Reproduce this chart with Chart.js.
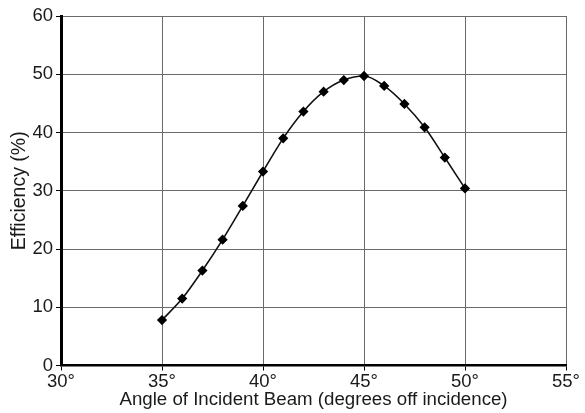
<!DOCTYPE html>
<html><head><meta charset="utf-8">
<script src="https://cdn.jsdelivr.net/npm/chart.js@4/dist/chart.umd.min.js"></script>
<style>html,body{margin:0;padding:0;background:#fff}#wrap{width:585px;height:413px}</style>
</head><body><div id="wrap"><canvas id="c" width="585" height="413"></canvas></div>
<script>
const angles = [35,36,37,38,39,40,41,42,43,44,45,46,47,48,49,50];
const efficiency = [7.8,11.5,16.3,21.6,27.4,33.3,39.0,43.6,47.0,49.0,49.7,48.0,44.9,40.9,35.7,30.4];
const xTicks = [30,35,40,45,50,55];
const yTicks = [0,10,20,30,40,50,60];
const xTitle = 'Angle of Incident Beam (degrees off incidence)';
const yTitle = 'Efficiency (%)';

const FONT = '"Liberation Sans", Arial, sans-serif';
new Chart(document.getElementById('c'), {
  type: 'line',
  data: {
    datasets: [{
      data: angles.map((a,i)=>({x:a,y:efficiency[i]})),
      borderColor: '#111', borderWidth: 1.6,
      pointStyle: 'rectRot', pointRadius: 4, pointBackgroundColor: '#000', pointBorderColor: '#000',
      cubicInterpolationMode: 'monotone', fill: false
    }]
  },
  options: {
    responsive: false, animation: false,
    layout: { padding: { left: 8, top: 16, right: 19, bottom: 2 } },
    plugins: { legend: { display: false }, tooltip: { enabled: false } },
    scales: {
      x: {
        type: 'linear', min: 30, max: 55,
        afterBuildTicks: s => { s.ticks = xTicks.map(v=>({value:v})); },
        afterFit: s => { s.height = 413 - 365.5 - 2; },
        ticks: { callback: v => v + '°', color: '#1a1a1a', font: { family: FONT, size: 18.5 }, padding: 0, maxRotation: 0 },
        grid: { color: '#6a6a6a', lineWidth: 1, tickColor: '#000', tickLength: 5 },
        border: { color: '#000', width: 2.5 },
        title: { display: true, text: xTitle, color: '#1a1a1a', font: { family: FONT, size: 18.7 }, padding: { top: -4, bottom: 0 } }
      },
      y: {
        min: 0, max: 60,
        afterBuildTicks: s => { s.ticks = yTicks.map(v=>({value:v})); },
        afterFit: s => { s.width = 61 - 8; },
        ticks: { color: '#1a1a1a', font: { family: FONT, size: 18.5 }, padding: 3 },
        grid: { color: '#6a6a6a', lineWidth: 1, tickColor: '#000', tickLength: 5 },
        border: { color: '#000', width: 3 },
        title: { display: true, text: yTitle, color: '#1a1a1a', font: { family: FONT, size: 19.5 }, padding: { top: 0, bottom: 0 } }
      }
    }
  }
});
</script></body></html>
